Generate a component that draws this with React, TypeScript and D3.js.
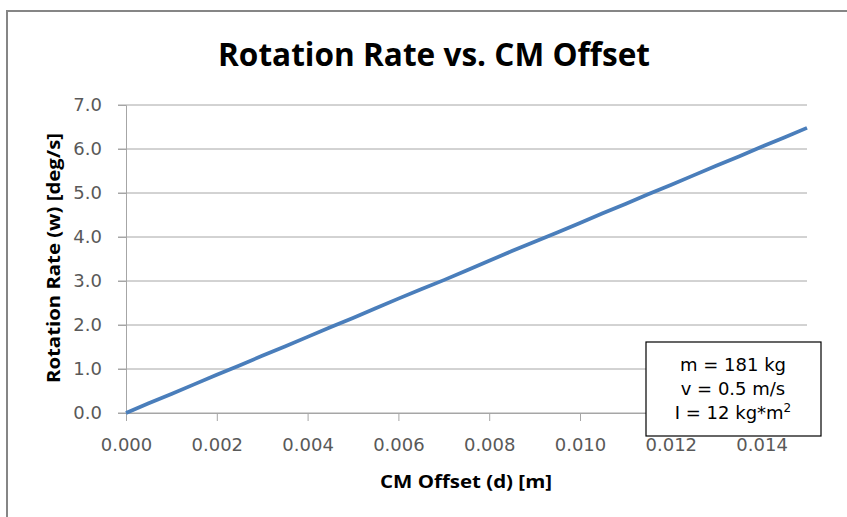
import { useEffect, useRef } from 'react';
import * as d3 from 'd3';

// CM offset [m] vs rotation rate [deg/s]
const offsets = [
  0, 0.0005, 0.001, 0.0015, 0.002, 0.0025, 0.003, 0.0035, 0.004, 0.0045, 0.005,
  0.0055, 0.006, 0.0065, 0.007, 0.0075, 0.008, 0.0085, 0.009, 0.0095, 0.01,
  0.0105, 0.011, 0.0115, 0.012, 0.0125, 0.013, 0.0135, 0.014, 0.0145, 0.015,
];
const rates = [
  0, 0.22, 0.43, 0.65, 0.87, 1.08, 1.3, 1.51, 1.73, 1.95, 2.16,
  2.38, 2.6, 2.81, 3.02, 3.24, 3.46, 3.68, 3.89, 4.1, 4.32,
  4.54, 4.75, 4.97, 5.18, 5.4, 5.62, 5.83, 6.05, 6.26, 6.48,
];
const xTicks = [0, 0.002, 0.004, 0.006, 0.008, 0.01, 0.012, 0.014];
const yTicks = [0, 1, 2, 3, 4, 5, 6, 7];
const noteLines = ['m = 181 kg', 'v = 0.5 m/s', 'I = 12 kg*m'];

const W = 847;
const H = 517;

export default function App() {
  const svgRef = useRef<SVGSVGElement>(null);

  useEffect(() => {
    if (!svgRef.current) return;
    const svg = d3.select(svgRef.current);
    svg.selectAll('*').remove();

    const x = d3.scaleLinear().domain([0, 0.015]).range([126, 807]);
    const y = d3.scaleLinear().domain([0, 7]).range([413, 105]);

    svg.append('rect').attr('width', W).attr('height', H).attr('fill', '#fff');

    // outer chart frame (runs off the right/bottom of the picture)
    svg.append('rect')
      .attr('x', 7).attr('y', 11)
      .attr('width', W + 20).attr('height', H + 20)
      .attr('fill', 'none')
      .attr('stroke', '#868686')
      .attr('stroke-width', 2);

    svg.append('text')
      .attr('x', 434).attr('y', 66)
      .attr('text-anchor', 'middle')
      .attr('font-family', 'Open Sans, sans-serif')
      .attr('font-weight', 'bold')
      .attr('font-size', 32)
      .attr('textLength', 432)
      .attr('lengthAdjust', 'spacingAndGlyphs')
      .text('Rotation Rate vs. CM Offset');

    // gridlines
    svg.append('g')
      .selectAll('line')
      .data(yTicks)
      .join('line')
      .attr('x1', 118).attr('x2', 807)
      .attr('y1', d => y(d)).attr('y2', d => y(d))
      .attr('stroke', '#a6a6a6')
      .attr('stroke-width', 1);

    // y axis
    const yAxis = svg.append('g').attr('transform', 'translate(126,0)')
      .call(d3.axisLeft(y).tickValues(yTicks).tickFormat(d3.format('.1f')).tickSize(8).tickPadding(16));
    yAxis.select('.domain').attr('stroke', '#a6a6a6');
    yAxis.selectAll('line').attr('stroke', '#a6a6a6');
    yAxis.selectAll('text')
      .attr('font-family', 'DejaVu Sans, sans-serif')
      .attr('font-size', 18).attr('fill', '#595959');

    // x axis
    const xAxis = svg.append('g').attr('transform', 'translate(0,413)')
      .call(d3.axisBottom(x).tickValues(xTicks).tickFormat(d3.format('.3f')).tickSize(8).tickPadding(17));
    xAxis.select('.domain').attr('stroke', '#a6a6a6');
    xAxis.selectAll('line').attr('stroke', '#a6a6a6');
    xAxis.selectAll('text')
      .attr('font-family', 'DejaVu Sans, sans-serif')
      .attr('font-size', 18).attr('fill', '#595959');

    // axis titles
    svg.append('text')
      .attr('transform', 'translate(60,258) rotate(-90)')
      .attr('text-anchor', 'middle')
      .attr('font-family', 'Open Sans, sans-serif')
      .attr('font-weight', 'bold')
      .attr('font-size', 18)
      .attr('textLength', 250)
      .attr('lengthAdjust', 'spacingAndGlyphs')
      .text('Rotation Rate (w) [deg/s]');

    svg.append('text')
      .attr('x', 466).attr('y', 488)
      .attr('text-anchor', 'middle')
      .attr('font-family', 'Open Sans, sans-serif')
      .attr('font-weight', 'bold')
      .attr('font-size', 18)
      .attr('textLength', 172)
      .attr('lengthAdjust', 'spacingAndGlyphs')
      .text('CM Offset (d) [m]');

    // series line
    const pts = offsets.map((d, i) => [d, rates[i]] as [number, number]);
    svg.append('path')
      .datum(pts)
      .attr('fill', 'none')
      .attr('stroke', '#4a7ebb')
      .attr('stroke-width', 3.75)
      .attr('stroke-linejoin', 'round')
      .attr('d', d3.line<[number, number]>().x(d => x(d[0])).y(d => y(d[1])));

    // parameter note box
    svg.append('rect')
      .attr('x', 646).attr('y', 342)
      .attr('width', 175).attr('height', 94)
      .attr('fill', '#fff')
      .attr('stroke', '#000')
      .attr('stroke-width', 1.2);

    const note = svg.append('g')
      .attr('font-family', 'DejaVu Sans, sans-serif')
      .attr('font-size', 18)
      .attr('fill', '#000');
    noteLines.forEach((s, i) => {
      const t = note.append('text')
        .attr('x', 733).attr('y', 371 + i * 24)
        .attr('text-anchor', 'middle');
      t.append('tspan').text(s);
      if (i === 2) {
        t.append('tspan').attr('dy', -7).attr('font-size', 12).text('2');
      }
    });
  }, []);

  return (
    <svg
      ref={svgRef}
      width={W}
      height={H}
      style={{ position: 'absolute', left: 0, top: 0 }}
    />
  );
}
